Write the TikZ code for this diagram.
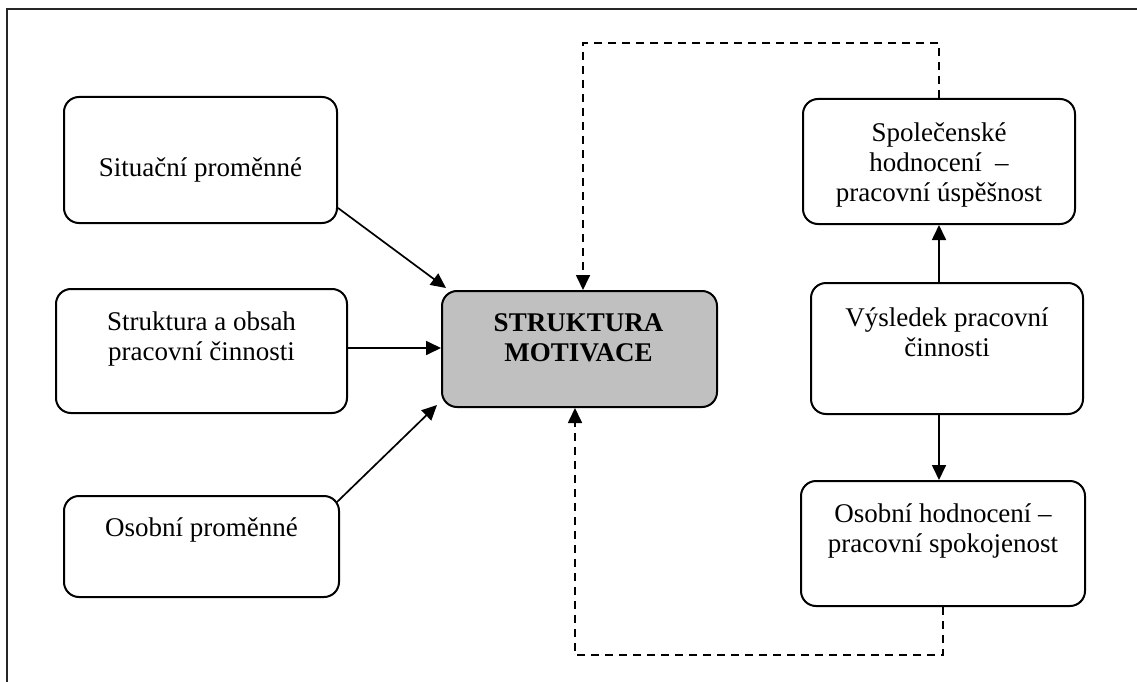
\documentclass[tikz,border=0pt]{standalone}
\usepackage{fontspec}
\setmainfont{Liberation Serif}
\usetikzlibrary{arrows.meta}
\definecolor{motfill}{RGB}{192,192,192}
\begin{document}
\begin{tikzpicture}[x=1pt,y=-1pt,
  box/.style={draw=black, line width=2pt, rounded corners=15pt, inner sep=0pt},
  txt/.style={align=center, font=\fontsize{27}{30}\selectfont, inner sep=0pt},
  arr/.style={line width=1.7pt, -{Triangle[length=15pt,width=14pt]}},
  darr/.style={line width=1.7pt, dash pattern=on 8pt off 6pt, -{Triangle[length=15pt,width=14pt]}}]
\useasboundingbox (0,0) rectangle (1137,682);
\begin{scope}
  \clip (0,0) rectangle (1137,682);
  \draw[line width=2pt, black!85] (7,9) rectangle (1160,700);
\end{scope}

% boxes on the left
\node[box, minimum width=273pt, minimum height=126pt] (sit) at (200.5,160) {};
\node[txt] (sit-t) at (200.5,170) {Situační proměnné};
\node[box, minimum width=291pt, minimum height=124pt] (str) at (201.5,351) {};
\node[txt] (str-t) at (201.5,339.5) {Struktura a obsah\\pracovní činnosti};
\node[box, minimum width=275pt, minimum height=101pt] (oso) at (201.5,546.5) {};
\node[txt] (oso-t) at (201.5,530) {Osobní proměnné};

% central box
\node[box, fill=motfill, minimum width=275pt, minimum height=116pt] (mot) at (579.5,349) {};
\node[txt, font=\fontsize{27}{30}\selectfont\bfseries] (mot-t) at (578.5,338) {STRUKTURA\\MOTIVACE};

% boxes on the right
\node[box, minimum width=272pt, minimum height=125pt] (spo) at (939,161.5) {};
\node[txt] (spo-t) at (939,165) {Společenské\\hodnocení\ \ –\\pracovní úspěšnost};
\node[box, minimum width=272pt, minimum height=131pt] (vys) at (947,348.5) {};
\node[txt] (vys-t) at (947,332) {Výsledek pracovní\\činnosti};
\node[box, minimum width=284pt, minimum height=125pt] (hod) at (943,543.5) {};
\node[txt] (hod-t) at (943,530.5) {Osobní hodnocení –\\pracovní spokojenost};

% solid connectors
\draw[arr] ([yshift=16pt]sit.south east) -- ([xshift=5pt,yshift=2pt]mot.north west);
\draw[arr] ([yshift=3pt]str.east) -- ([yshift=1pt]mot.west);
\draw[arr] ([xshift=-3pt,yshift=-7pt]oso.north east) -- ([xshift=-4pt,yshift=3pt]mot.south west);
\draw[arr] ([xshift=-8pt]vys.north) -- (spo.south);
\draw[arr] ([xshift=-8pt]vys.south) -- ([xshift=-4pt]hod.north);

% dashed feedback loops
\coordinate (topc) at (583,43);
\coordinate (botc) at (575,655);
\draw[darr] (spo.north) |- (topc) -- ([xshift=3.5pt]mot.north);
\draw[darr] (hod.south) |- (botc) -- ([xshift=-4.5pt]mot.south);
\end{tikzpicture}
\end{document}
